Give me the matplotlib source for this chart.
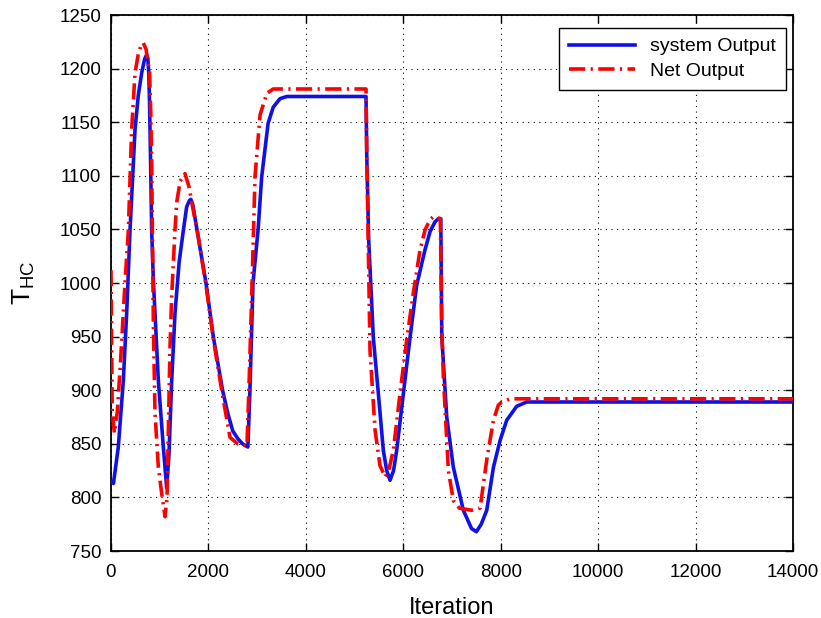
import matplotlib
matplotlib.use("Agg")
import matplotlib.pyplot as plt

plt.rcParams['font.family'] = ['Liberation Sans', 'DejaVu Sans']
plt.rcParams['mathtext.fontset'] = 'custom'
plt.rcParams['mathtext.rm'] = 'Liberation Sans'

# system output (solid blue)
iter_sys = [0, 50, 150, 253, 322, 390, 493, 560, 630, 690, 733, 755, 775, 790,
            810, 835, 869, 903, 972, 1074, 1143, 1190, 1246, 1314, 1400, 1485,
            1553, 1610, 1640, 1680, 1800, 1950, 2100, 2290, 2400, 2500, 2600,
            2700, 2810, 2850, 2915, 3020, 3093, 3225, 3330, 3470, 3610, 5235,
            5250, 5290, 5385, 5488, 5590, 5660, 5728, 5800, 5865, 6002, 6138,
            6275, 6446, 6550, 6650, 6720, 6770, 6790, 6892, 7028, 7233, 7400,
            7500, 7600, 7713, 7850, 7986, 8123, 8328, 8533, 8740, 14000]
temp_sys = [815, 813, 847, 909, 972, 1049, 1143, 1175, 1196, 1209, 1213, 1210,
            1196, 1170, 1120, 1049, 1003, 972, 909, 847, 809, 840, 909, 972,
            1020, 1049, 1071, 1077, 1078, 1073, 1040, 1000, 950, 900, 878, 862,
            855, 850, 847, 897, 1000, 1050, 1099, 1149, 1164, 1172, 1174, 1174,
            1120, 1040, 949, 897, 844, 825, 816, 825, 844, 897, 949, 998, 1031,
            1048, 1057, 1060, 1060, 950, 875, 828, 788, 771, 768, 775, 788, 828,
            853, 872, 885, 889, 889, 889]

# network output (red dash-dot)
iter_net = [0, 25, 70, 130, 200, 287, 356, 424, 493, 561, 620, 663, 720, 760,
            790, 815, 835, 870, 903, 972, 1040, 1109, 1150, 1211, 1245, 1314,
            1348, 1420, 1519, 1600, 1700, 1786, 1950, 2100, 2290, 2443, 2600,
            2790, 2830, 2890, 2956, 3060, 3200, 3330, 5235, 5250, 5317, 5420,
            5520, 5625, 5700, 5796, 5933, 6070, 6207, 6344, 6450, 6550, 6618,
            6760, 6790, 6823, 6926, 7028, 7150, 7400, 7577, 7713, 7850, 7950,
            8020, 8200, 14000]
temp_net = [1012, 880, 860, 880, 930, 1000, 1049, 1143, 1196, 1214, 1222, 1224,
            1218, 1205, 1200, 1160, 1112, 960, 879, 828, 804, 782, 800, 940,
            987, 1050, 1075, 1095, 1102, 1090, 1065, 1045, 998, 948, 895, 856,
            850, 848, 900, 991, 1099, 1157, 1177, 1181, 1181, 1120, 937, 863,
            830, 819, 825, 844, 897, 947, 991, 1031, 1050, 1059, 1062, 1060,
            960, 912, 825, 797, 790, 788, 790, 835, 872, 886, 889, 892, 892]

fig = plt.figure(figsize=(8.21, 6.18), dpi=100)
ax = fig.add_axes([0.1352, 0.1084, 0.8307, 0.8673])

ax.plot(iter_sys, temp_sys, color='#1010e8', lw=2.6, label='system Output', zorder=3)
ax.plot(iter_net, temp_net, color='#ff0000', lw=2.6, linestyle=(0, (4.5, 1.5, 0.6, 1.5)),
        label='Net Output', zorder=4)

ax.set_xlim(0, 14000)
ax.set_ylim(750, 1250)
ax.set_xticks(range(0, 14001, 2000))
ax.set_yticks(range(750, 1251, 50))
ax.grid(True, color='black', linestyle=(0, (1, 4)), lw=0.8)
ax.tick_params(direction='in', length=6, width=1, top=True, right=True,
               labelsize=13.5)
ax.tick_params(axis='x', pad=9)
ax.tick_params(axis='y', pad=7)
for s in ax.spines.values():
    s.set_linewidth(1.3)

ax.set_xlabel('Iteration', fontsize=17, labelpad=12)
ax.set_ylabel(r'$\mathregular{T_{HC}}$', fontsize=19, labelpad=16)

leg = ax.legend(loc='upper right', bbox_to_anchor=(0.9897, 0.9757),
                borderaxespad=0, fontsize=14, fancybox=False, framealpha=1,
                edgecolor='black', handlelength=3.4, borderpad=0.5,
                labelspacing=0.35)
leg.get_frame().set_linewidth(1.0)

fig.savefig('out.png', dpi=100)
